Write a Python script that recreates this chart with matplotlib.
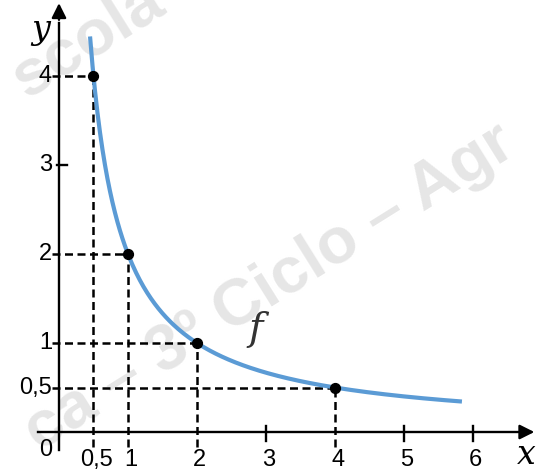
import numpy as np
import matplotlib.pyplot as plt

# pontos marcados no grafico de f(x) = 2/x
px = [0.5, 1, 2, 4]
py = [4, 2, 1, 0.5]
xticks = [0.5, 1, 2, 3, 4, 5, 6]
xlabels = ['0,5', '1', '2', '3', '4', '5', '6']
yticks = [0.5, 1, 2, 3, 4]
ylabels = ['0,5', '1', '2', '3', '4']
x_curve = np.linspace(0.45, 5.84, 300)
k = 2

plt.rcParams['font.family'] = ['Liberation Sans', 'DejaVu Sans']
fig = plt.figure(figsize=(5.37, 4.75), dpi=100)
ax = fig.add_axes([0, 0, 1, 1])
ax.set_xlim(-0.855, 6.928)
ax.set_ylim(-0.483, 4.854)
ax.axis('off')

# marca d'agua
wm = dict(color='#e6e6e6', fontsize=47, fontweight='bold', rotation=32,
          ha='center', va='center', zorder=0)
ax.text(0.42, 4.4, 'scola', **wm)
ax.text(3.05, 1.62, 'ca – 3º Ciclo – Agr', **wm)

# eixos
ax.plot([-0.3, 6.8], [0, 0], color='k', lw=1.7, zorder=3)
ax.plot([0, 0], [-0.2, 4.6], color='k', lw=1.7, zorder=3)
ax.annotate('', xy=(6.93, 0), xytext=(6.7, 0),
            arrowprops=dict(arrowstyle='-|>', color='k', lw=1.7, mutation_scale=22))
ax.annotate('', xy=(0, 4.85), xytext=(0, 4.6),
            arrowprops=dict(arrowstyle='-|>', color='k', lw=1.7, mutation_scale=22))

# tracos dos eixos
for t in [3, 5, 6]:
    ax.plot([t, t], [-0.1, 0.07], color='k', lw=1.7, zorder=3)
ax.plot([-0.03, 0.12], [3, 3], color='k', lw=1.7, zorder=3)

# linhas tracejadas ate aos pontos
for a, b in zip(px, py):
    ax.plot([-0.1, a], [b, b], color='k', lw=1.8, ls=(0, (3.2, 1.8)), zorder=2)
    ax.plot([a, a], [-0.17, b], color='k', lw=1.8, ls=(0, (3.2, 1.8)), zorder=2)

# curva
ax.plot(x_curve, k / x_curve, color='#5b9bd5', lw=3, zorder=4, solid_capstyle='butt')
ax.scatter(px, py, s=50, color='k', zorder=5)

# rotulos
for t, lab in zip(xticks, xlabels):
    ax.text(t + 0.04, -0.31, lab, fontsize=17, ha='center', va='center')
for t, lab in zip(yticks, ylabels):
    ax.text(-0.1, t, lab, fontsize=17, ha='right', va='center')
ax.text(-0.2, -0.2, '0', fontsize=17, ha='center', va='center')
ax.text(-0.26, 4.52, 'y', fontsize=24, style='italic', family='DejaVu Serif',
        ha='center', va='center')
ax.text(6.78, -0.26, 'x', fontsize=24, style='italic', family='DejaVu Serif',
        ha='center', va='center')
ax.text(2.85, 1.15, 'f', fontsize=28, style='italic', family='DejaVu Serif',
        ha='center', va='center', color='#333333')

plt.savefig('out.png', dpi=100)
